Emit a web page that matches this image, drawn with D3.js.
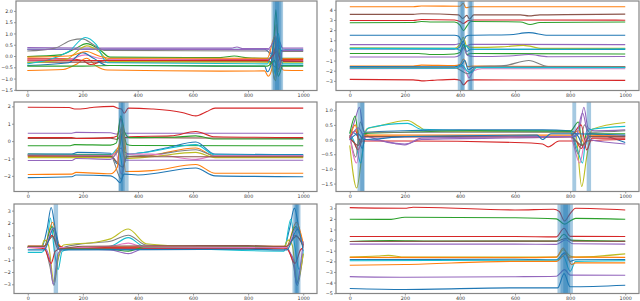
<!DOCTYPE html>
<html>
<head>
<meta charset="utf-8">
<script src="https://d3js.org/d3.v7.min.js"></script>
<style>
  body { margin: 0; background: #fff; }
  svg text { font-family: "DejaVu Sans", sans-serif; font-size: 4.8px; fill: #333; }
</style>
</head>
<body>
<script>
// tab10 colours, by short name
var C = {b:"#1f77b4", o:"#ff7f0e", g:"#2ca02c", r:"#d62728", p:"#9467bd",
         n:"#8c564b", k:"#e377c2", y:"#7f7f7f", l:"#bcbd22", c:"#17becf"};

var xTicks = [0, 200, 400, 600, 800, 1000];

// ---- panel 1 (top left)
var p1Ticks = [-1.5, -1, -0.5, 0, 0.5, 1, 1.5, 2];
var p1Spans = [[885, 927], [891, 921], [898, 913]];
var p1Series = [
  ["b", [[0,0.3],[300,0.3],[700,0.3],[860,0.3],[878,0.15],[893,0.05],[905,0.5],[918,0.25],[935,0.27],[1000,0.27]]],
  ["o", [[0,-0.64],[130,-0.6],[180,-0.35],[215,-0.1],[250,-0.45],[290,-0.62],[700,-0.67],[860,-0.66],[873,-0.9],[887,-0.55],[902,1.4],[915,-0.2],[930,-0.63],[1000,-0.64]]],
  ["g", [[0,-0.02],[120,0.05],[170,0.3],[215,0.55],[260,0.3],[300,-0.05],[700,-0.07],[750,0],[800,-0.08],[880,-0.1],[893,0.6],[901,2.05],[910,0.4],[922,-0.1],[1000,-0.1]]],
  ["r", [[0,-0.12],[150,-0.12],[200,-0.2],[230,-0.38],[265,-0.25],[300,-0.14],[700,-0.15],[870,-0.15],[885,-0.3],[900,0.4],[915,-0.1],[930,-0.15],[1000,-0.15]]],
  ["p", [[0,0.37],[300,0.35],[740,0.35],[760,0.4],[780,0.33],[870,0.33],[885,0.1],[895,-1.05],[905,-0.2],[913,0.65],[925,0.35],[1000,0.35]]],
  ["n", [[0,-0.27],[300,-0.27],[700,-0.25],[880,-0.25],[900,-0.5],[915,-0.1],[930,-0.25],[1000,-0.25]]],
  ["k", [[0,-0.2],[150,-0.15],[210,0.05],[260,-0.1],[300,-0.15],[870,-0.18],[895,0.1],[910,-0.4],[925,-0.2],[1000,-0.2]]],
  ["y", [[0,0.22],[100,0.35],[160,0.7],[200,0.76],[240,0.5],[280,0.25],[870,0.22],[895,-0.3],[905,0.9],[920,0.2],[1000,0.2]]],
  ["l", [[0,-0.3],[140,-0.15],[215,0.45],[260,0.2],[300,-0.25],[870,-0.27],[885,-0.4],[900,-1.1],[912,0.3],[925,-0.3],[1000,-0.3]]],
  ["c", [[0,-0.35],[150,0.2],[210,0.82],[250,0.5],[290,-0.3],[870,-0.35],[888,0.1],[898,-0.8],[910,1.0],[925,-0.35],[1000,-0.35]]],
  ["b", [[0,-0.42],[150,-0.3],[200,0.15],[240,-0.1],[290,-0.42],[860,-0.45],[870,-0.7],[882,-0.45],[897,0.9],[908,-0.6],[920,-0.42],[1000,-0.42]]],
  ["o", [[0,-0.05],[150,0],[215,0.2],[260,0],[300,-0.1],[870,-0.1],[898,0.9],[910,-0.7],[925,-0.12],[1000,-0.12]]],
  ["g", [[0,-0.45],[200,-0.45],[300,-0.42],[700,-0.45],[870,-0.45],[897,-0.2],[910,-0.9],[925,-0.45],[1000,-0.45]]],
  ["r", [[0,-0.18],[300,-0.2],[870,-0.2],[905,0.2],[920,-0.2],[1000,-0.22]]],
  ["p", [[0,0.3],[300,0.3],[870,0.28],[900,0.7],[912,-0.5],[925,0.25],[1000,0.25]]]
];

// ---- panel 2 (top right)
var p2Ticks = [-3, -2, -1, 0, 1, 2, 3, 4];
var p2Spans = [[392, 418], [402, 414], [428, 450], [434, 444]];
var p2Series = [
  ["o", [[0,4.3],[230,4.3],[260,4.38],[400,4.35],[412,4.65],[422,4.2],[440,4.3],[1000,4.3]]],
  ["n", [[0,3.55],[230,3.55],[260,3.62],[395,3.5],[410,3.15],[425,3.45],[435,3.1],[450,3.5],[620,3.5],[650,3.4],[690,3.5],[1000,3.58]]],
  ["r", [[0,2.95],[230,2.95],[260,3.05],[380,3.0],[400,2.85],[412,2.65],[430,2.95],[450,3.0],[1000,2.98]]],
  ["g", [[0,2.72],[230,2.75],[260,2.85],[300,2.8],[380,2.8],[400,2.5],[413,1.95],[425,2.4],[440,2.85],[620,2.8],[655,2.55],[690,2.75],[1000,2.8]]],
  ["b", [[0,1.5],[380,1.5],[395,1.4],[410,0.8],[422,1.4],[435,1.5],[580,1.55],[650,1.75],[720,1.5],[1000,1.5]]],
  ["p", [[0,0.57],[380,0.57],[405,0.7],[420,0.4],[440,0.6],[1000,0.57]]],
  ["l", [[0,0.25],[380,0.22],[400,0.6],[412,1.3],[425,0.4],[445,0.3],[550,0.35],[630,0.5],[700,0.2],[1000,0.2]]],
  ["b", [[0,0.15],[380,0.12],[398,0.3],[412,0.9],[425,-0.1],[440,0.1],[1000,0.1]]],
  ["c", [[0,0.2],[380,0.2],[405,0],[420,0.5],[435,0.1],[1000,0.15]]],
  ["g", [[0,-0.3],[250,-0.3],[300,-0.4],[380,-0.35],[400,-0.2],[413,0.6],[425,-0.4],[440,-0.3],[1000,-0.35]]],
  ["p", [[0,-0.65],[380,-0.65],[400,-0.45],[412,0.3],[428,-0.5],[450,-0.6],[580,-0.55],[650,-0.4],[720,-0.62],[1000,-0.6]]],
  ["o", [[0,-1.55],[230,-1.55],[260,-1.45],[380,-1.5],[400,-1.4],[413,-0.85],[428,-1.6],[445,-1.55],[1000,-1.6]]],
  ["b", [[0,-1.6],[380,-1.62],[405,-1.4],[418,-1.0],[430,-1.9],[450,-1.65],[1000,-1.65]]],
  ["k", [[0,-1.8],[380,-1.78],[405,-1.6],[420,-2.0],[433,-2.7],[450,-2.0],[480,-1.8],[1000,-1.8]]],
  ["y", [[0,-1.7],[380,-1.7],[430,-2.3],[460,-1.6],[560,-1.5],[650,-1.0],[720,-1.6],[1000,-1.65]]],
  ["c", [[0,-1.75],[380,-1.75],[410,-1.5],[425,-2.0],[440,-2.2],[460,-1.7],[1000,-1.7]]],
  ["r", [[0,-2.85],[230,-2.9],[270,-3.0],[300,-2.95],[380,-2.85],[400,-2.95],[413,-3.4],[428,-3.0],[450,-2.9],[1000,-2.95]]]
];

// ---- panel 3 (middle left)
var p3Ticks = [-2, -1, 0, 1, 2];
var p3Spans = [[330, 366], [330, 352], [338, 346]];
var p3Series = [
  ["r", [[0,1.95],[150,1.93],[170,1.85],[210,1.88],[240,1.95],[310,2.0],[325,1.9],[340,1.85],[350,1.6],[365,1.9],[450,1.85],[560,1.65],[610,1.45],[650,1.7],[680,1.9],[1000,1.9]]],
  ["p", [[0,0.45],[160,0.45],[175,0.5],[300,0.48],[325,0.4],[340,0.7],[355,0.45],[1000,0.45]]],
  ["n", [[0,0.15],[300,0.17],[325,0.1],[340,0.4],[355,0.2],[1000,0.15]]],
  ["r", [[0,0.2],[160,0.2],[175,0.15],[300,0.2],[325,0.3],[338,1.3],[352,0.2],[370,0.25],[520,0.3],[610,0.55],[680,0.25],[1000,0.2]]],
  ["g", [[0,-0.27],[150,-0.27],[170,-0.2],[300,-0.23],[322,-0.1],[338,1.45],[352,0.5],[370,0.2],[520,0.22],[610,0.3],[680,0.12],[1000,0.12]]],
  ["g", [[0,-0.75],[300,-0.78],[330,-0.5],[345,0.5],[360,-0.2],[380,-0.25],[1000,-0.27]]],
  ["b", [[0,-0.75],[160,-0.75],[180,-0.65],[300,-0.7],[325,-1.3],[338,0.3],[350,-0.6],[370,-0.75],[500,-0.4],[610,-0.05],[680,-0.75],[1000,-0.78]]],
  ["c", [[0,-0.8],[300,-0.8],[330,-0.4],[345,-1.5],[360,-0.8],[450,-0.6],[610,-0.2],[680,-0.8],[1000,-0.82]]],
  ["o", [[0,-0.88],[300,-0.85],[330,-0.3],[345,0.9],[360,-0.9],[400,-0.9],[610,-0.4],[680,-0.88],[1000,-0.9]]],
  ["y", [[0,-0.8],[300,-0.82],[340,-2.2],[355,-0.9],[450,-0.8],[610,-0.5],[680,-0.85],[1000,-0.85]]],
  ["k", [[0,-0.82],[300,-0.85],[320,-0.7],[340,-1.9],[355,-0.75],[450,-0.75],[610,-1.05],[680,-0.85],[1000,-0.85]]],
  ["l", [[0,-0.95],[300,-0.95],[330,-0.5],[342,1.0],[356,-1.0],[450,-0.9],[610,-0.65],[680,-0.95],[1000,-0.95]]],
  ["n", [[0,-0.85],[300,-0.88],[345,-1.5],[360,-0.9],[1000,-0.9]]],
  ["p", [[0,-1.12],[160,-1.12],[175,-1.0],[300,-1.05],[340,-0.4],[355,-1.1],[1000,-1.1]]],
  ["o", [[0,-1.92],[160,-1.9],[175,-1.8],[300,-1.88],[325,-1.5],[340,0.8],[355,-1.75],[450,-1.7],[610,-1.35],[680,-1.85],[1000,-1.85]]],
  ["b", [[0,-2.1],[160,-2.05],[175,-1.95],[300,-2.0],[322,-2.2],[335,-2.4],[350,-1.9],[400,-1.95],[610,-1.55],[680,-2.0],[1000,-2.05]]]
];

// ---- panel 4 (middle right)
var p4Ticks = [-1.5, -1, -0.5, 0, 0.5, 1];
var p4Spans = [[28, 53], [38, 53], [808, 822], [860, 876]];
var p4Series = [
  ["l", [[0,-0.2],[25,-1.65],[45,-0.5],[60,0.35],[100,0.45],[210,0.65],[250,0.45],[280,0.3],[800,0.25],[820,0.2],[842,-1.6],[860,-0.6],[880,0.35],[1000,0.58]]],
  ["p", [[0,0.1],[20,0.7],[35,1.1],[50,0.3],[70,0.1],[200,-0.15],[260,0],[800,0.1],[830,0.2],[850,1.1],[865,0.4],[890,0.3],[1000,0.33]]],
  ["c", [[0,0.25],[25,-0.3],[40,-0.8],[55,0.2],[70,0.4],[210,0.55],[260,0.35],[500,0.3],[800,0.3],[825,-0.3],[845,-0.8],[860,0.3],[880,0.35],[1000,0.45]]],
  ["b", [[0,0.3],[30,0.1],[45,-0.3],[60,0.25],[200,0.3],[400,0.33],[700,0.33],[800,0.3],[830,0.1],[850,-0.3],[870,0.2],[1000,-0.1]]],
  ["g", [[0,0.2],[20,0.8],[35,-0.2],[50,0.2],[200,0.25],[450,0.3],[800,0.28],[830,0.6],[845,-0.2],[860,0.2],[1000,0.2]]],
  ["o", [[0,0.05],[20,0.5],[35,-0.1],[55,0.15],[200,0.15],[800,0.15],[830,0.3],[850,-0.1],[865,0.15],[1000,0.12]]],
  ["r", [[0,0],[15,-0.1],[30,-0.35],[45,-0.05],[200,-0.05],[600,-0.1],[700,-0.15],[720,-0.25],[760,-0.05],[820,-0.05],[840,-0.3],[860,-0.05],[1000,0]]],
  ["r", [[0,0.05],[20,0.3],[35,0],[60,0.1],[800,0.1],[840,0.5],[860,-0.35],[880,0.05],[1000,0.05]]],
  ["y", [[0,0.15],[22,-0.6],[38,0.6],[55,0.25],[200,0.25],[800,0.25],[830,-0.5],[852,0.5],[870,0.25],[1000,0.3]]],
  ["k", [[0,0.1],[25,-0.8],[40,0],[60,0.1],[800,0.1],[835,-0.8],[855,0],[870,0.1],[1000,0.12]]],
  ["n", [[0,0.1],[30,-0.2],[50,0.1],[200,0.1],[800,0.1],[845,-0.2],[870,0.1],[1000,0.1]]],
  ["p", [[0,0],[30,0.4],[60,0],[120,-0.05],[200,-0.18],[260,0.05],[700,0.1],[820,0.1],[845,0.9],[870,0],[1000,-0.15]]],
  ["b", [[0,0],[30,0.2],[50,0],[200,0.1],[680,0.15],[700,0],[730,0.2],[800,0.2],[1000,0.15]]]
];

// ---- panel 5 (bottom left)
var p5Ticks = [-3, -2, -1, 0, 1, 2, 3];
var p5Spans = [[94, 110], [961, 990], [968, 985], [972, 980]];
var p5Series = [
  ["b", [[0,0],[50,0],[70,1.5],[85,3.25],[100,1.5],[120,-0.1],[300,-0.1],[800,-0.1],[930,0],[950,1.5],[968,3.2],[985,1.5],[1000,0.2]]],
  ["c", [[0,-0.4],[50,-0.4],[70,0.5],[82,2.4],[95,0],[110,-1.8],[125,-0.3],[150,-0.15],[300,0.1],[365,0.8],[420,0.1],[600,-0.1],[930,-0.3],[955,2.3],[970,0],[985,-1.8],[1000,-0.3]]],
  ["o", [[0,0.1],[60,0.1],[90,2.05],[110,0.3],[130,0],[800,0.1],[940,0.1],[975,2.05],[1000,0.3]]],
  ["y", [[0,0],[60,0],[80,-1.5],[95,-3.1],[110,-1],[130,0],[200,0.3],[300,0.5],[365,1.0],[430,0.2],[800,0],[940,0],[965,-1.5],[978,-3.1],[1000,-0.5]]],
  ["l", [[0,0.1],[50,0.1],[60,0.6],[75,0.2],[95,-2.8],[110,-0.8],[130,0.2],[250,0.45],[300,0.7],[365,1.5],[430,0.3],[600,0.1],[930,0.05],[945,0.6],[960,0.2],[978,-2.8],[1000,-0.5]]],
  ["p", [[0,0],[60,0],[80,-1],[92,-3],[110,-0.5],[130,-0.1],[300,-0.2],[365,-0.5],[420,-0.1],[930,0],[965,-1],[975,-3],[1000,0.5]]],
  ["r", [[0,0],[60,-0.1],[85,-1.3],[100,-0.3],[120,-0.1],[800,-0.1],[940,-0.1],[970,-1.3],[990,-0.2],[1000,0]]],
  ["r", [[0,0.1],[60,0.1],[88,1],[105,0.3],[130,0],[800,0.05],[940,0.05],[972,1],[1000,0.2]]],
  ["g", [[0,0.05],[60,0.05],[88,1.7],[105,0.3],[130,-0.1],[300,-0.15],[365,-0.3],[420,0],[800,0.05],[940,0],[972,1.7],[1000,0]]],
  ["k", [[0,0],[60,0],[92,1.6],[110,0],[130,0],[300,0.1],[365,0.35],[420,0.05],[940,0],[975,1.6],[1000,0]]],
  ["n", [[0,0.1],[60,0.1],[90,0.9],[110,-0.1],[200,0.1],[800,0.15],[940,0.1],[975,0.9],[1000,0.1]]],
  ["b", [[0,-0.2],[60,-0.2],[95,1.6],[115,-0.2],[800,-0.15],[940,-0.2],[980,1.5],[1000,-0.3]]]
];

// ---- panel 6 (bottom right)
var p6Ticks = [-5, -4, -3, -2, -1, 0, 1, 2, 3];
var p6Spans = [[754, 810], [765, 800], [775, 792]];
var p6Series = [
  ["r", [[0,3.06],[200,3.0],[230,3.1],[600,2.84],[740,2.9],[760,2.7],[780,1.8],[800,2.5],[820,3.0],[1000,2.84]]],
  ["g", [[0,1.97],[150,1.95],[200,2.15],[600,2.1],[750,2.0],[780,1.5],[800,1.8],[820,2.05],[1000,1.97]]],
  ["r", [[0,0.34],[600,0.34],[750,0.3],[778,1.12],[800,0.35],[1000,0.34]]],
  ["g", [[0,-0.13],[150,-0.05],[300,-0.1],[750,-0.1],[778,0.55],[800,0],[1000,-0.1]]],
  ["n", [[0,-0.13],[600,-0.1],[750,-0.1],[790,0.2],[810,-0.1],[1000,-0.12]]],
  ["p", [[0,-0.38],[600,-0.38],[750,-0.4],[785,0.03],[810,-0.35],[1000,-0.38]]],
  ["l", [[0,-1.6],[100,-1.5],[140,-1.44],[200,-1.6],[750,-1.6],[775,-0.91],[800,-1.5],[820,-1.6],[1000,-1.3]]],
  ["o", [[0,-1.63],[600,-1.65],[750,-1.6],[775,-0.75],[795,-1.6],[1000,-1.63]]],
  ["b", [[0,-1.84],[600,-1.8],[750,-1.85],[780,-1.2],[800,-2.0],[820,-1.85],[1000,-1.84]]],
  ["c", [[0,-1.94],[600,-1.9],[750,-1.9],[775,-1.5],[800,-2.94],[820,-2.0],[1000,-1.94]]],
  ["o", [[0,-2.37],[200,-2.3],[600,-2.0],[750,-2.0],[785,-1.3],[805,-2.3],[820,-2.15],[1000,-2.15]]],
  ["p", [[0,-3.44],[200,-3.5],[600,-3.45],[750,-3.4],[780,-2.78],[800,-3.3],[1000,-3.31]]],
  ["b", [[0,-4.56],[200,-4.65],[600,-4.5],[755,-4.5],[778,-3.16],[800,-4.4],[1000,-4.25]]]
];

// layout of the six axes (pixel boxes); panel 1 starts a bit further right
var panels = [
  {x: 16,  y: 1,   w: 301, x0: -41, ydom: [-1.53, 2.44], ticks: p1Ticks, fmt: ".1f", spans: p1Spans, series: p1Series},
  {x: 336, y: 1,   w: 303, x0: -50, ydom: [-3.95, 4.87], ticks: p2Ticks, fmt: "d",   spans: p2Spans, series: p2Series},
  {x: 14,  y: 102, w: 303, x0: -50, ydom: [-2.9, 2.25],  ticks: p3Ticks, fmt: "d",   spans: p3Spans, series: p3Series},
  {x: 336, y: 102, w: 303, x0: -50, ydom: [-1.77, 1.28], ticks: p4Ticks, fmt: ".1f", spans: p4Spans, series: p4Series},
  {x: 14,  y: 204, w: 303, x0: -50, ydom: [-3.75, 3.54], ticks: p5Ticks, fmt: "d",   spans: p5Spans, series: p5Series},
  {x: 336, y: 204, w: 303, x0: -50, ydom: [-5.03, 3.4],  ticks: p6Ticks, fmt: "d",   spans: p6Spans, series: p6Series}
];
var ph = 89.5;

var svg = d3.select("body").append("svg")
  .attr("width", 640).attr("height", 301);

panels.forEach(function(p, i) {
  var pw = p.w;
  var g = svg.append("g").attr("transform", "translate(" + p.x + "," + p.y + ")");
  var x = d3.scaleLinear().domain([p.x0, 1050]).range([0, pw]);
  var y = d3.scaleLinear().domain(p.ydom).range([ph, 0]);

  var clipId = "clip" + i;
  g.append("clipPath").attr("id", clipId)
    .append("rect").attr("width", pw).attr("height", ph);

  var plot = g.append("g").attr("clip-path", "url(#" + clipId + ")");

  var line = d3.line()
    .x(function(d) { return x(d[0]); })
    .y(function(d) { return y(d[1]); })
    .curve(d3.curveMonotoneX);

  plot.selectAll("path.series")
    .data(p.series)
    .join("path")
      .attr("class", "series")
      .attr("fill", "none")
      .attr("stroke", function(d) { return C[d[0]]; })
      .attr("stroke-width", 1.1)
      .attr("d", function(d) { return line(d[1]); });

  // shaded spans drawn over the lines
  plot.selectAll("rect.span")
    .data(p.spans)
    .join("rect")
      .attr("class", "span")
      .attr("x", function(d) { return x(d[0]); })
      .attr("width", function(d) { return x(d[1]) - x(d[0]); })
      .attr("y", 0).attr("height", ph)
      .attr("fill", C.b).attr("fill-opacity", 0.4);

  var xAxis = d3.axisBottom(x).tickValues(xTicks).tickSize(2).tickPadding(1.5)
    .tickFormat(d3.format("d"));
  var yAxis = d3.axisLeft(y).tickValues(p.ticks).tickSize(2).tickPadding(1.2)
    .tickFormat(d3.format(p.fmt));

  var gx = g.append("g").attr("transform", "translate(0," + ph + ")").call(xAxis);
  var gy = g.append("g").call(yAxis);
  [gx, gy].forEach(function(a) {
    a.select(".domain").remove();
    a.selectAll(".tick line").attr("stroke", "#555").attr("stroke-width", 0.6);
    a.selectAll("text").attr("fill", "#333").style("font-size", "4.8px");
  });

  g.append("rect")
    .attr("width", pw).attr("height", ph)
    .attr("fill", "none").attr("stroke", "#858585").attr("stroke-width", 1.2);
});
</script>
</body>
</html>
